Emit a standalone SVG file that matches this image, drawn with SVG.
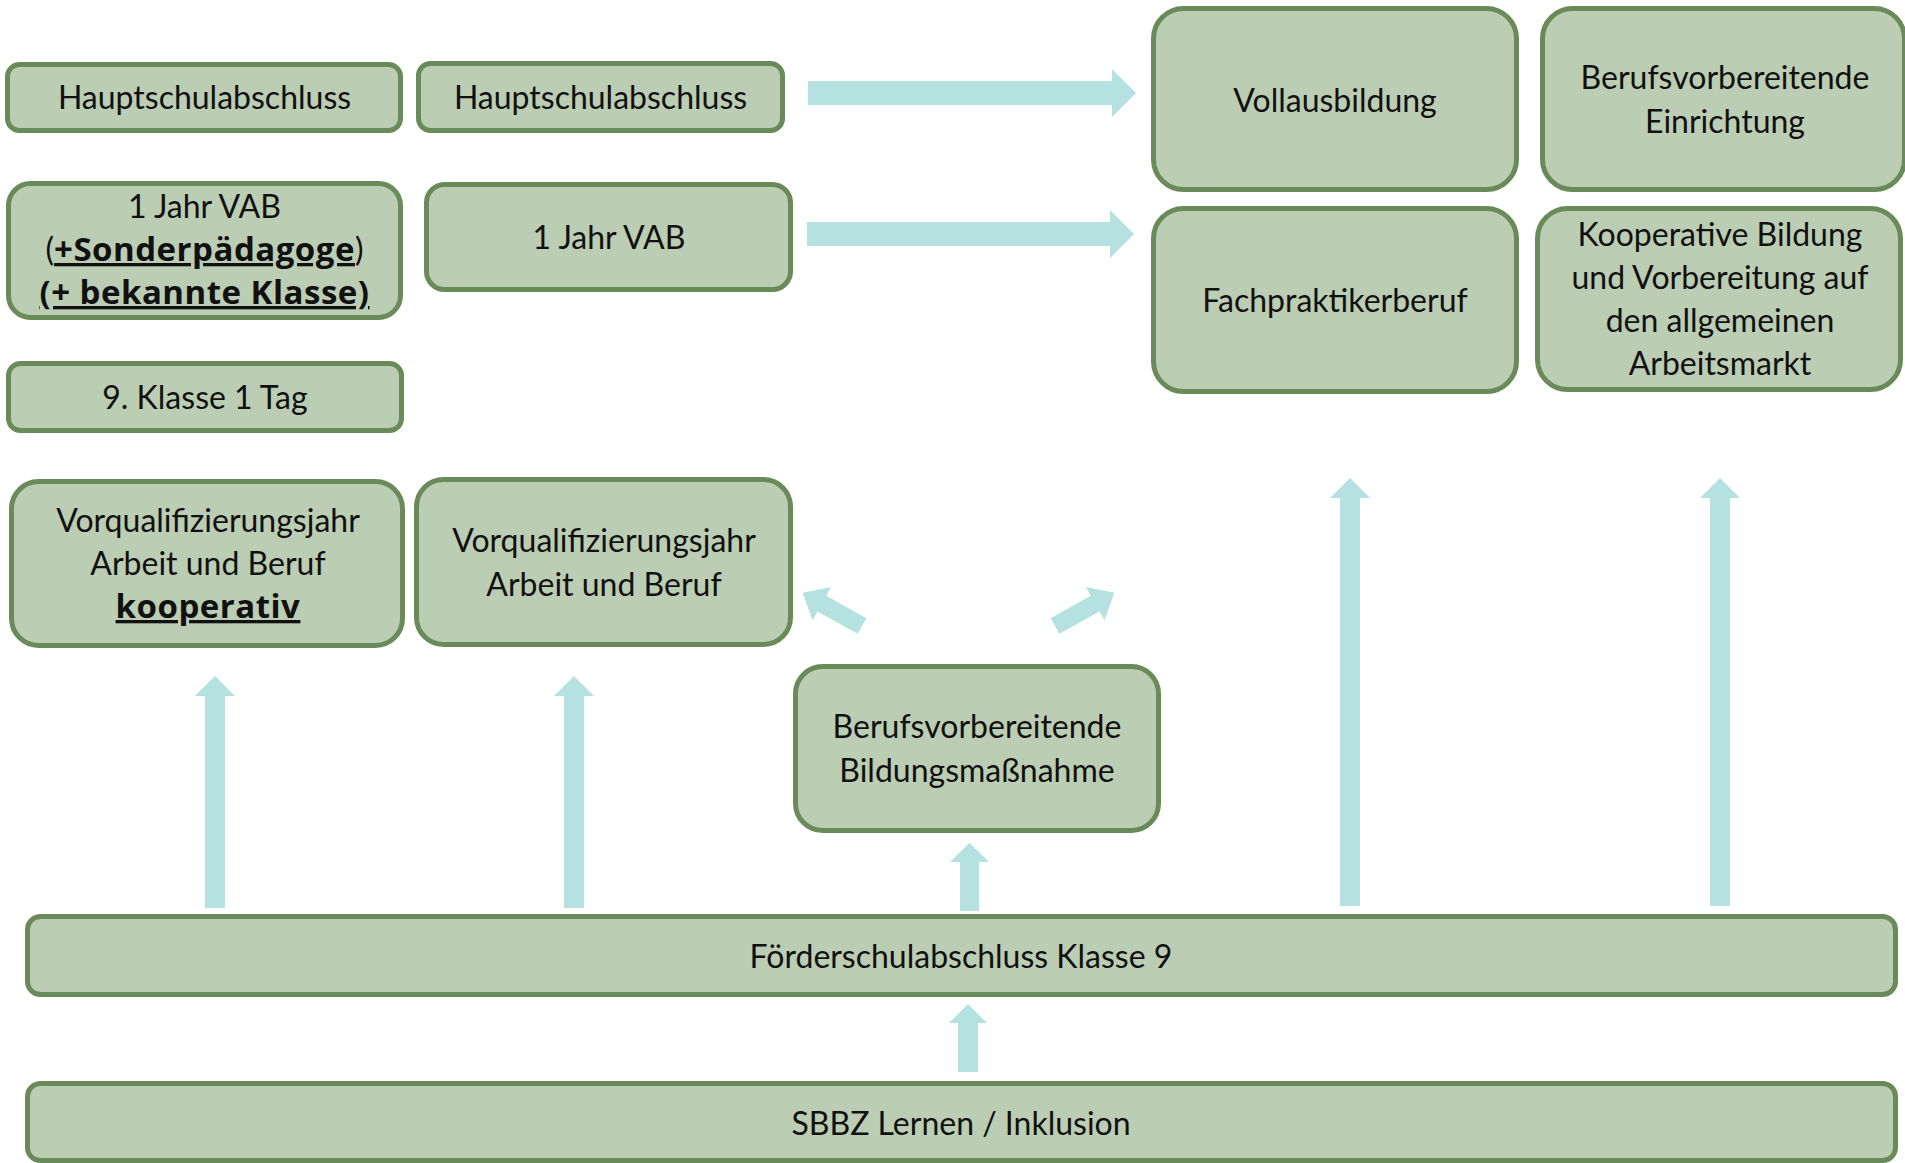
<svg xmlns="http://www.w3.org/2000/svg" width="1905" height="1163" viewBox="0 0 1905 1163">
<defs>
<style>
.box{fill:#bbcdb3;stroke:#6b8a5a;stroke-width:5}
.t{font-family:"Lato","Liberation Sans",sans-serif;font-size:32px;fill:#111;text-anchor:middle}
.b{font-family:"Open Sans","Lato",sans-serif;font-weight:bold;font-size:33px;letter-spacing:0.5px}
.u{text-decoration:underline}
.arr{fill:#b5e1e1}
</style>
<path id="diag" d="M0,-9 L46,-9 L46,-19 L68,0 L46,19 L46,9 L0,9 Z"/>
</defs>
<rect width="1905" height="1163" fill="#ffffff"/>
<g id="connectors">
<path class="arr" d="M808,81 L1112,81 L1112,69 L1136,93 L1112,117 L1112,105 L808,105 Z"/>
<path class="arr" d="M807,222 L1110,222 L1110,210 L1134,234 L1110,258 L1110,246 L807,246 Z"/>
<use href="#diag" class="arr" transform="translate(862,626) rotate(-150.8)"/>
<use href="#diag" class="arr" transform="translate(1055,626) rotate(-29.2)"/>
<path class="arr" d="M205,908 L205,696 L195,696 L215,676 L235,696 L225,696 L225,908 Z"/>
<path class="arr" d="M564,908 L564,696 L554,696 L574,676 L594,696 L584,696 L584,908 Z"/>
<path class="arr" d="M960,911 L960,862 L950,862 L969.5,843 L989,862 L979,862 L979,911 Z"/>
<path class="arr" d="M1340,906 L1340,498 L1330,498 L1350,478 L1370,498 L1360,498 L1360,906 Z"/>
<path class="arr" d="M1710,906 L1710,498 L1700,498 L1720,478 L1740,498 L1730,498 L1730,906 Z"/>
<path class="arr" d="M958,1072 L958,1023 L949,1023 L968,1004 L987,1023 L978,1023 L978,1072 Z"/>
</g>
<g id="n-haupt1"><rect class="box" x="7.5" y="64.5" width="393" height="66" rx="12"/><text class="t" x="204.5" y="109">Hauptschulabschluss</text></g>
<g id="n-haupt2"><rect class="box" x="418.5" y="63.5" width="364" height="67" rx="12"/><text class="t" x="600.5" y="109">Hauptschulabschluss</text></g>
<g id="n-vab1"><rect class="box" x="8.5" y="183.5" width="392" height="134" rx="22"/>
<text class="t" x="204.5" y="218">1 Jahr VAB</text>
<text class="t" x="204.5" y="261">(<tspan class="b u">+Sonderpädagoge</tspan>)</text>
<text class="t b u" x="204.5" y="304">(+ bekannte Klasse)</text></g>
<g id="n-vab2"><rect class="box" x="426.5" y="184.5" width="364" height="105" rx="18"/><text class="t" x="609" y="249">1 Jahr VAB</text></g>
<g id="n-klasse9"><rect class="box" x="8.5" y="363.5" width="393" height="67" rx="12"/><text class="t" x="205" y="409">9. Klasse 1 Tag</text></g>
<g id="n-vab-koop"><rect class="box" x="11.5" y="481.5" width="391" height="164" rx="27"/>
<text class="t" x="208" y="532">Vorqualifizierungsjahr</text>
<text class="t" x="208" y="575">Arbeit und Beruf</text>
<text class="t b u" x="208" y="618">kooperativ</text></g>
<g id="n-vab-ab"><rect class="box" x="416.5" y="479.5" width="374" height="165" rx="27"/>
<text class="t" x="604" y="552">Vorqualifizierungsjahr</text>
<text class="t" x="604" y="596">Arbeit und Beruf</text></g>
<g id="n-voll"><rect class="box" x="1153.5" y="8.5" width="363" height="181" rx="30"/><text class="t" x="1335" y="112">Vollausbildung</text></g>
<g id="n-bve"><rect class="box" x="1542.5" y="8.5" width="362" height="181" rx="30"/>
<text class="t" x="1725" y="89">Berufsvorbereitende</text>
<text class="t" x="1725" y="133">Einrichtung</text></g>
<g id="n-fach"><rect class="box" x="1153.5" y="208.5" width="363" height="183" rx="30"/><text class="t" x="1335" y="312">Fachpraktikerberuf</text></g>
<g id="n-koop"><rect class="box" x="1537.5" y="208.5" width="363" height="181" rx="30"/>
<text class="t" x="1720" y="246">Kooperative Bildung</text>
<text class="t" x="1720" y="289">und Vorbereitung auf</text>
<text class="t" x="1720" y="332">den allgemeinen</text>
<text class="t" x="1720" y="375">Arbeitsmarkt</text></g>
<g id="n-bvb"><rect class="box" x="795.5" y="666.5" width="363" height="164" rx="27"/>
<text class="t" x="977" y="738">Berufsvorbereitende</text>
<text class="t" x="977" y="782">Bildungsmaßnahme</text></g>
<g id="n-foerder"><rect class="box" x="27.5" y="916.5" width="1868" height="78" rx="13"/><text class="t" x="961" y="968">Förderschulabschluss Klasse 9</text></g>
<g id="n-sbbz"><rect class="box" x="27.5" y="1083.5" width="1868" height="77" rx="13"/><text class="t" x="961" y="1135">SBBZ Lernen / Inklusion</text></g>
</svg>
